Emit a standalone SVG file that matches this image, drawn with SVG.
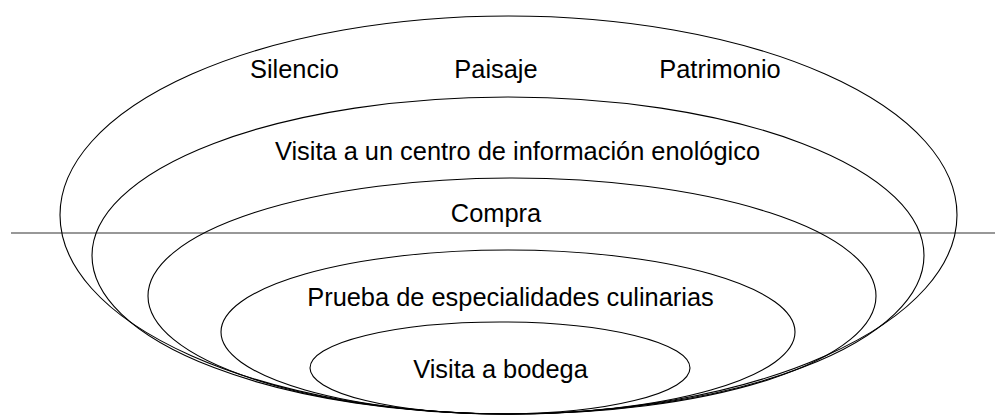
<svg xmlns="http://www.w3.org/2000/svg" width="995" height="417" viewBox="0 0 995 417">
<style>
.e{fill:none;stroke:#000;stroke-width:1.1}
.t{font-family:"Liberation Sans",Arial,sans-serif;font-size:25.4px;fill:#000;text-anchor:middle}
</style>
<rect width="995" height="417" fill="#fff"/>
<g id="connectors">
<line x1="11" y1="233" x2="995" y2="233" stroke="#333" stroke-width="1.1"/>
</g>
<g id="n1"><ellipse class="e" cx="508.5" cy="215" rx="448.5" ry="199"/>
<text class="t" x="294.5" y="78">Silencio</text>
<text class="t" x="496" y="78">Paisaje</text>
<text class="t" x="720" y="78">Patrimonio</text></g>
<g id="n2"><ellipse class="e" cx="508" cy="255.5" rx="416" ry="158.5"/>
<text class="t" x="517.5" y="160">Visita a un centro de información enológico</text></g>
<g id="n3"><ellipse class="e" cx="512" cy="296" rx="364" ry="118"/>
<text class="t" x="496" y="222">Compra</text></g>
<g id="n4"><ellipse class="e" cx="508" cy="332" rx="287" ry="82"/>
<text class="t" x="510.5" y="306">Prueba de especialidades culinarias</text></g>
<g id="n5"><ellipse class="e" cx="500" cy="368" rx="190" ry="46"/>
<text class="t" x="500.5" y="378">Visita a bodega</text></g>
</svg>
